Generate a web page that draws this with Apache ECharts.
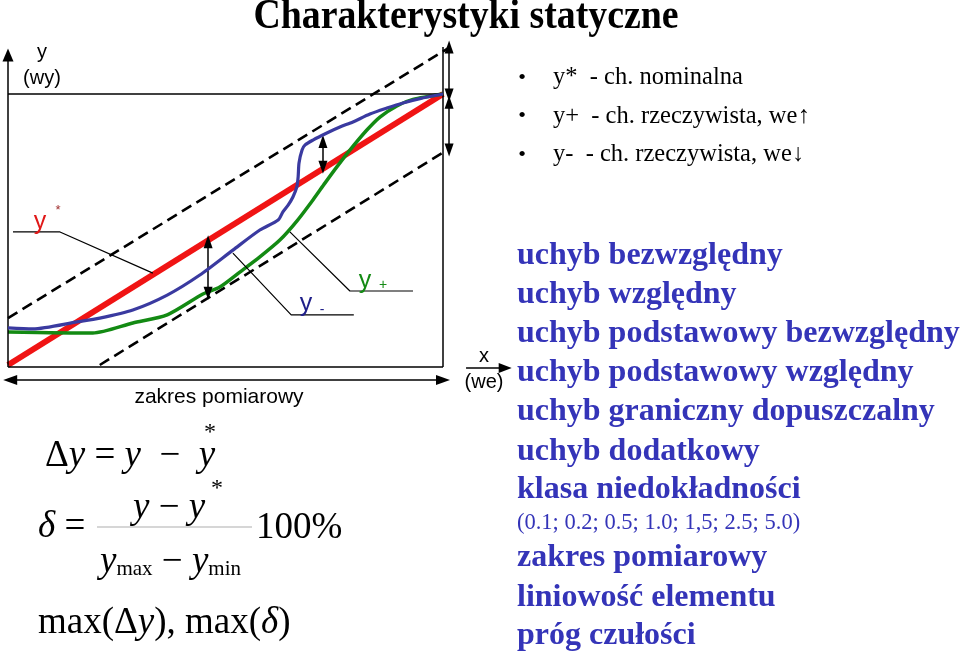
<!DOCTYPE html>
<html>
<head>
<meta charset="utf-8">
<script src="https://cdn.jsdelivr.net/npm/echarts@6/dist/echarts.min.js"></script>
<style>html,body{margin:0;padding:0;background:#fff;}#c{width:960px;height:654px;}</style>
</head>
<body>
<div id="c"></div>
<script>
// ---- data (x: input "we" 0..100 % of range, y: output "wy" 0..100 %) ----
const yNominal = [[0, 0], [100, 100]];
const yPlus = [[0, 12.2], [19.5, 11.8], [28.7, 15.5], [36.6, 18.5], [44.8, 26.2], [48.7, 28.8], [53.3, 34.3], [57.9, 39.9], [62.5, 46.1], [66.4, 53.1], [70.1, 60.9], [72.9, 67.2], [75.6, 73.1], [78.6, 79.3], [82.5, 86.7], [85.5, 91.5], [89.4, 95.6], [93.1, 98.0], [100, 100]];
const yMinus = [[0, 13.7], [5.7, 13.3], [15.9, 15.9], [21.1, 17.3], [28.7, 20.3], [36.6, 25.8], [44.1, 33.2], [51.7, 42.4], [57.9, 49.8], [62.1, 53.5], [63.2, 56.5], [64.4, 59.0], [65.5, 62.0], [66.4, 65.7], [66.7, 69.4], [66.9, 74.5], [67.6, 79.3], [68.3, 81.2], [70.1, 83.0], [73.3, 85.6], [76.3, 87.8], [79.3, 89.7], [83.2, 92.6], [87.1, 94.8], [90.8, 96.7], [94.7, 98.3], [100, 100]];
const bandUpper = [[0, 17.3], [101.6, 117.3]];
const bandLower = [[21.1, 0], [99.8, 78.2]];
const frameLines = [[[0, 100], [100, 100]], [[100, 117.3], [100, -0.7]], [[0, -0.7], [100, -0.7]]];
const yAxisArrow = [[0, -0.7], [0, 114.4]];
const xAxisArrow = [[105.3, -1.1], [114.3, -1.1]];
const rangeArrow = [[0.5, -5.5], [100, -5.5]];
const deviationArrows = [[[46, 45.5], [46, 26.5]], [[72.4, 82.5], [72.4, 73.0]], [[101.4, 117.3], [101.4, 99.6]], [[101.4, 97.0], [101.4, 79.3]]];
const leaderStar = [[1.15, 49.1], [11.95, 49.1], [33.3, 33.9]];
const leaderMinus = [[51.7, 41.3], [65.1, 18.5], [79.5, 18.5]];
const leaderPlus = [[64.8, 49.1], [78.6, 27.3], [93.1, 27.3]];

const bulletItems = ['y*  - ch. nominalna', 'y+  - ch. rzeczywista, we\u2191', 'y-  - ch. rzeczywista, we\u2193'];
const termItems = ['uchyb bezwzględny', 'uchyb względny', 'uchyb podstawowy bezwzględny', 'uchyb podstawowy względny', 'uchyb graniczny dopuszczalny', 'uchyb dodatkowy', 'klasa niedokładności', '(0.1; 0.2; 0.5; 1.0; 1,5; 2.5; 5.0)', 'zakres pomiarowy', 'liniowość elementu', 'próg czułości'];

// ---- chart ----
const chart = echarts.init(document.getElementById('c'), null, {renderer: 'canvas'});
const SERIF = '"Liberation Serif", "Times New Roman", serif';
const SANS = '"Liberation Sans", Arial, sans-serif';

function seg(a, b, startSym, endSym, size) {
  return [{coord: a, symbol: startSym, symbolSize: size}, {coord: b, symbol: endSym, symbolSize: size}];
}
const markData = [];
frameLines.forEach(l => markData.push(seg(l[0], l[1], 'none', 'none', 0)));
markData.push(seg(yAxisArrow[0], yAxisArrow[1], 'none', 'triangle', [11, 13]));
markData.push(seg(xAxisArrow[0], xAxisArrow[1], 'none', 'triangle', [10, 13]));
markData.push(seg(rangeArrow[0], rangeArrow[1], 'triangle', 'triangle', [10, 14]));
deviationArrows.forEach(l => markData.push(seg(l[0], l[1], 'triangle', 'triangle', [9, 13])));

function lineSeries(data, color, width, type, z, smooth) {
  return {type: 'line', data: data, symbol: 'none', silent: true, clip: false, z: z,
    lineStyle: {color: color, width: width, type: type || 'solid', cap: 'butt'}, smooth: smooth || false};
}

const graphics = [];
function txt(x, y, text, font, fill, align, extra) {
  const e = {type: 'text', x: x, y: y, silent: true, z: 100,
    style: Object.assign({text: text, font: font, fill: fill || '#000', align: align || 'left', verticalAlign: 'middle',
      textAlign: align || 'left', textVerticalAlign: 'middle'}, extra && extra.style)};
  if (extra) { Object.keys(extra).forEach(k => { if (k !== 'style') e[k] = extra[k]; }); }
  graphics.push(e);
}
// title
txt(466, 17, 'Charakterystyki statyczne', 'bold 42px ' + SERIF, '#000', 'center', {scaleX: 0.9});
// axis labels
txt(42, 52, 'y', '20px ' + SANS, '#000', 'center');
txt(42, 78, '(wy)', '20px ' + SANS, '#000', 'center');
txt(484, 356, 'x', '20px ' + SANS, '#000', 'center');
txt(484, 382, '(we)', '20px ' + SANS, '#000', 'center');
txt(219, 397, 'zakres pomiarowy', '21px ' + SANS, '#000', 'center');
// curve labels
txt(40, 222, 'y', '25px ' + SANS, '#e01818', 'center');
txt(58, 210, '*', '13px ' + SANS, '#a03030', 'center');
txt(306, 304, 'y', '25px ' + SANS, '#20208a', 'center');
txt(322, 310, '-', '14px ' + SANS, '#20208a', 'center');
txt(365, 281, 'y', '25px ' + SANS, '#148a14', 'center');
txt(383, 285, '+', '14px ' + SANS, '#148a14', 'center');
// bullets
bulletItems.forEach((t, i) => {
  txt(522, 78 + i * 38.5, '\u2022', '22px ' + SERIF, '#000', 'center');
  txt(553, 78 + i * 38.5, t, '24.5px ' + SERIF, '#000', 'left');
});
// terms
const termY = [256, 295, 334, 373, 412, 452, 490, 523, 558, 598, 636];
termItems.forEach((t, i) => {
  const small = t.charAt(0) === '(';
  txt(517, termY[i], t, (small ? '' : 'bold ') + (small ? '22.5px ' : '32px ') + SERIF, '#3434b8', 'left');
});
// formulas
const richF = {
  u: {fontFamily: SERIF, fontSize: 37, color: '#000'},
  i: {fontFamily: SERIF, fontSize: 37, fontStyle: 'italic', color: '#000'},
  s: {fontFamily: SERIF, fontSize: 21, color: '#000', padding: [14, 0, 0, 0]}
};
function rtxt(x, y, text, align) {
  graphics.push({type: 'text', x: x, y: y, silent: true, z: 100,
    style: {text: text, rich: richF, font: '37px ' + SERIF, fill: '#000', align: align || 'left', verticalAlign: 'middle',
      textAlign: align || 'left', textVerticalAlign: 'middle'}});
}
rtxt(45, 456, '{u|\u0394}{i|y}{u| = }{i|y}{u|  \u2212  }{i|y}');
txt(210, 433, '*', '24px ' + SERIF, '#000', 'center');
rtxt(38, 527, '{i|\u03b4}{u| =}');
rtxt(133, 508, '{i|y}{u| \u2212 }{i|y}');
txt(217, 489, '*', '24px ' + SERIF, '#000', 'center');
graphics.push({type: 'line', silent: true, z: 100, shape: {x1: 97, y1: 527, x2: 252, y2: 527}, style: {stroke: '#c8c8c8', lineWidth: 1.5}});
rtxt(256, 528, '{u|100%}');
rtxt(100, 562, '{i|y}{s|max}{u| \u2212 }{i|y}{s|min}');
rtxt(38, 623, '{u|max(\u0394}{i|y}{u|), max(}{i|\u03b4}{u|)}');

const option = {
  animation: false,
  backgroundColor: '#fff',
  grid: {left: 8, width: 522, top: 39.8, height: 379.4, containLabel: false},
  xAxis: {type: 'value', min: 0, max: 120, show: false},
  yAxis: {type: 'value', min: -20, max: 120, show: false},
  graphic: graphics,
  series: [
    lineSeries(bandUpper, '#000', 2.6, [11, 6], 2),
    lineSeries(bandLower, '#000', 2.6, [11, 6], 2),
    lineSeries(yNominal, '#f01414', 6, 'solid', 3),
    lineSeries(yPlus, '#138a13', 3.5, 'solid', 4, 0.25),
    lineSeries(yMinus, '#3a3aa0', 3.2, 'solid', 5, 0.25),
    lineSeries(leaderStar, '#000', 1.2, 'solid', 6),
    lineSeries(leaderMinus, '#000', 1.2, 'solid', 6),
    lineSeries(leaderPlus, '#000', 1.2, 'solid', 6),
    {
      type: 'line', data: [], symbol: 'none', silent: true, clip: false, z: 7,
      markLine: {
        silent: true, animation: false, precision: 3,
        label: {show: false},
        emphasis: {disabled: true},
        lineStyle: {color: '#000', width: 1.5, type: 'solid'},
        itemStyle: {color: '#000'},
        data: markData
      }
    }
  ]
};
chart.setOption(option);
</script>
</body>
</html>
